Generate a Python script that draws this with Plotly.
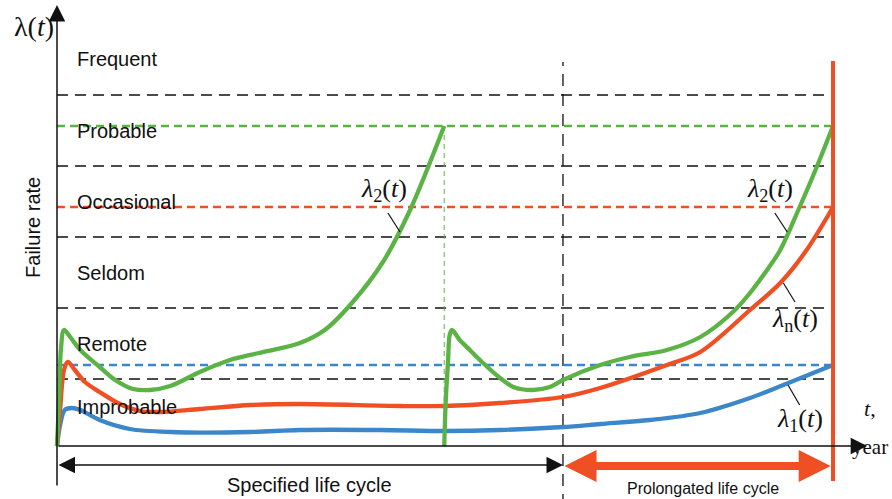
import plotly.graph_objects as go

# ---------------- data (relative time 0..100, relative failure rate) ----------------
t_blue = [0, 0.4, 1.0, 1.9, 3.0, 5.5, 9.4, 14.6, 24.9, 31.3, 41.6, 49.9, 57.1, 65.2, 70, 76.4, 82.9, 89.3, 93.6, 100]
rate_blue = [0, 21, 36, 38, 36, 26, 17, 14, 14, 16, 16, 15, 16, 19, 22, 26, 33, 48, 61, 81]

t_red = [0, 0.4, 0.9, 1.4, 2.3, 3.6, 5.5, 8.1, 10.7, 13.3, 18.4, 24.9, 31.3, 44.2, 49.9, 57.1, 65.2, 70, 78.6, 82.9, 89.3, 93.2, 96.6, 100]
rate_red = [0, 36, 76, 84, 76, 64, 54, 42, 35, 34, 37, 41, 42, 40, 40, 43, 49, 58, 81, 94, 136, 163, 196, 239]

t_green1 = [0, 0.26, 0.5, 0.9, 1.7, 3.0, 5.5, 7.5, 9.8, 12.0, 14.6, 18.4, 22.3, 26.0, 31.3, 34.5, 38.0, 42.0, 45.5, 49.9]
rate_green1 = [0, 46, 96, 116, 109, 96, 79, 66, 57, 56, 60, 74, 86, 93, 103, 116, 143, 184, 236, 320]

t_green2 = [49.9, 50.1, 50.4, 50.6, 50.9, 51.9, 53.2, 54.9, 57.1, 58.8, 61.3, 63.5, 65.2, 70, 73.8, 78.6, 82.9, 87.1, 89.3, 91.5, 93.2, 95.7, 97.9, 100]
rate_green2 = [0, 46, 86, 111, 116, 106, 96, 83, 68, 59, 56, 59, 66, 81, 89, 96, 109, 134, 153, 176, 196, 239, 279, 320]

categories = ["Improbable", "Remote", "Seldom", "Occasional", "Probable", "Frequent"]
level_bounds = [67, 138, 209, 280, 351]
threshold_green = 320
threshold_red = 239
threshold_blue = 81
t_renewal = 49.9
t_specified_end = 65.2
t_prolonged_end = 100

GREEN = "#5BB346"
RED = "#F04E23"
BLUE = "#3B87C9"
BLACK = "#111111"

SANS = "Arial, Liberation Sans, sans-serif"
SERIF = "Times New Roman, Liberation Serif, serif"

fig = go.Figure()

def curve(t, r, color):
    fig.add_trace(go.Scatter(x=t, y=r, mode="lines",
                             line=dict(color=color, width=4.3, shape="spline", smoothing=0.9),
                             hoverinfo="skip", showlegend=False))

# ---------------- reference levels ----------------
shapes = []
for lv in level_bounds:
    shapes.append(dict(type="line", xref="x", yref="y", x0=0, x1=99.2, y0=lv, y1=lv,
                       line=dict(color=BLACK, width=1.3, dash="11px,7px"), layer="below"))
for thr, col in [(threshold_green, GREEN), (threshold_red, RED), (threshold_blue, BLUE)]:
    shapes.append(dict(type="line", xref="x", yref="y", x0=0, x1=t_prolonged_end, y0=thr, y1=thr,
                       line=dict(color=col, width=2.4, dash="8px,5px"), layer="below"))
# renewal marker
shapes.append(dict(type="line", xref="x", yref="y", x0=t_renewal, x1=t_renewal, y0=0, y1=threshold_green,
                   line=dict(color=GREEN, width=1, dash="5px,4px"), layer="below"))
# end of specified life cycle
shapes.append(dict(type="line", xref="x", yref="y", x0=t_specified_end, x1=t_specified_end, y0=-60, y1=384,
                   line=dict(color=BLACK, width=1.3, dash="12px,8px"), layer="below"))

curve(t_blue, rate_blue, BLUE)
curve(t_red, rate_red, RED)
curve(t_green1, rate_green1, GREEN)
curve(t_green2, rate_green2, GREEN)

# end of prolonged life cycle
shapes.append(dict(type="line", xref="x", yref="y", x0=t_prolonged_end, x1=t_prolonged_end, y0=-35, y1=385,
                   line=dict(color=RED, width=4)))

# leader lines for curve labels
leaders = [((42.65, 233), (44.2, 214)), ((92.5, 233), (94.1, 214)),
           ((93.6, 163), (95.1, 144)), ((94.2, 61), (95.7, 41))]
for (xa, ya), (xb, yb) in leaders:
    shapes.append(dict(type="line", xref="x", yref="y", x0=xa, y0=ya, x1=xb, y1=yb,
                       line=dict(color=BLACK, width=1.2)))

ann = []
# axes with arrows
ann.append(dict(x=0, y=441, ax=0, ay=-41, xref="x", yref="y", axref="x", ayref="y", text="",
                showarrow=True, arrowhead=2, arrowsize=2.2, arrowwidth=1.5, arrowcolor=BLACK))
ann.append(dict(x=104.4, y=0, ax=0, ay=0, xref="x", yref="y", axref="x", ayref="y", text="",
                showarrow=True, arrowhead=2, arrowsize=2.2, arrowwidth=1.5, arrowcolor=BLACK))
# life-cycle spans
ann.append(dict(x=t_specified_end, y=-19, ax=0, ay=-19, xref="x", yref="y", axref="x", ayref="y", text="",
                showarrow=True, arrowhead=2, startarrowhead=2, arrowside="end+start",
                arrowsize=2.2, startarrowsize=2.2, arrowwidth=1.5, arrowcolor=BLACK))
ann.append(dict(x=99.7, y=-20, ax=t_specified_end, ay=-20, xref="x", yref="y", axref="x", ayref="y", text="",
                showarrow=True, arrowhead=2, startarrowhead=2, arrowside="end+start",
                arrowsize=0.8, startarrowsize=0.8, arrowwidth=8, arrowcolor=RED))

# category labels
edges = [11] + level_bounds + [423]
for i, name in enumerate(categories):
    yc = (edges[i] + edges[i + 1]) / 2
    ann.append(dict(x=2.3, y=yc, xref="x", yref="y", text=name, showarrow=False,
                    xanchor="left", yanchor="middle", font=dict(family=SANS, size=20, color=BLACK)))

# texts
ann.append(dict(x=-2.96, y=420, xref="x", yref="y", text="λ(<i>t</i>)", showarrow=False,
                font=dict(family=SERIF, size=28, color=BLACK)))
ann.append(dict(x=-3.1, y=219, xref="x", yref="y", text="Failure rate", showarrow=False, textangle=-90,
                font=dict(family=SANS, size=20, color=BLACK)))
ann.append(dict(x=104.8, y=38, xref="x", yref="y", text="<i>t</i>,", showarrow=False,
                font=dict(family=SERIF, size=22, color=BLACK)))
ann.append(dict(x=107.4, y=-1, xref="x", yref="y", text="year", showarrow=False, xanchor="right",
                font=dict(family=SERIF, size=21, color=BLACK)))
ann.append(dict(x=32.6, y=-39, xref="x", yref="y", text="Specified life cycle", showarrow=False,
                font=dict(family=SANS, size=20, color=BLACK)))
ann.append(dict(x=83.2, y=-42, xref="x", yref="y", text="Prolongated life cycle", showarrow=False,
                font=dict(family=SANS, size=16, color=BLACK)))

lab = "<i>λ</i><sub>%s</sub>(<i>t</i>)"
for (xx, yy, s) in [(42.1, 256, "2"), (91.9, 256, "2"), (95.1, 126, "n"), (95.7, 26, "1")]:
    ann.append(dict(x=xx, y=yy, xref="x", yref="y", text=lab % s, showarrow=False,
                    font=dict(family=SERIF, size=26, color=BLACK)))

fig.update_layout(
    width=892, height=499, margin=dict(l=0, r=0, t=0, b=0),
    paper_bgcolor="white", plot_bgcolor="white",
    xaxis=dict(range=[-7.345, 107.6], visible=False, fixedrange=True),
    yaxis=dict(range=[-53, 446], visible=False, fixedrange=True),
    shapes=shapes, annotations=ann, showlegend=False,
)

fig.write_html("out.html", config={"displayModeBar": False},
               post_script="document.body.style.margin='0px';document.body.style.overflow='hidden';")
